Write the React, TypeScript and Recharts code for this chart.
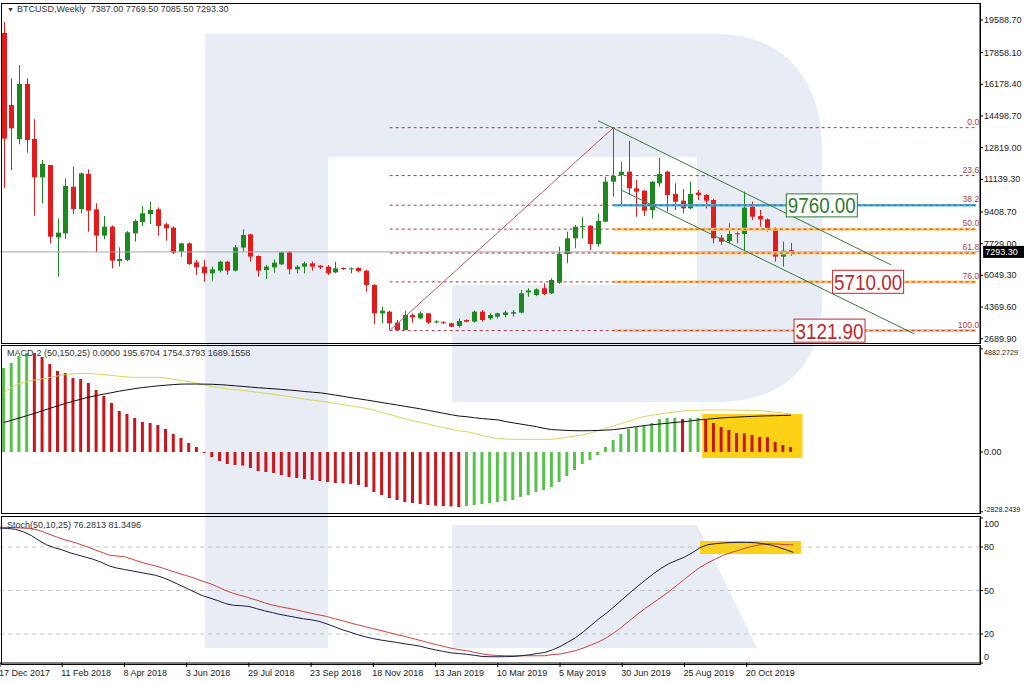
import { ComposedChart, Bar, Line, XAxis, YAxis, ReferenceLine, ReferenceDot, ReferenceArea, Cell } from 'recharts';

const FONT = '"Liberation Sans", Arial, sans-serif';
const GREEN = '#1a8a1f';
const RED = '#e01c1c';
const SLOTS = 127;

// x axis labels, one every 8 weekly candles
const tickLabels = [
  '17 Dec 2017', '11 Feb 2018', '8 Apr 2018', '3 Jun 2018', '29 Jul 2018', '23 Sep 2018', '18 Nov 2018',
  '13 Jan 2019', '10 Mar 2019', '5 May 2019', '30 Jun 2019', '25 Aug 2019', '20 Oct 2019',
];

// weekly BTCUSD candles
const openPrices = [
  18896, 15080, 13278, 16193, 13278, 11246, 11900, 8066, 8278, 10752,
  9568, 11423, 9550, 8155, 8632, 6812, 6865, 8278, 8879, 9303,
  9550, 8756, 8579, 7307, 7748, 6741, 6512, 6158, 6300, 6777,
  6300, 7519, 8225, 7077, 6335, 6476, 6635, 7271, 6370, 6512,
  6688, 6565, 6512, 6211, 6441, 6388, 6441, 6300, 5540, 4038,
  4127, 3544, 3155, 3950, 3773, 4038, 3580, 3560, 3508, 3367,
  3685, 3597, 4127, 3773, 3862, 3950, 4020, 4074, 5150, 5010,
  5363, 5098, 5664, 7183, 8013, 8600, 8684, 7713, 8897, 11017,
  11370, 11547, 10663, 10540, 9515, 10928, 11547, 10363, 10010, 9603,
  10434, 10310, 10045, 8049, 7872, 8278, 8243, 9692, 9197, 9020,
  8543, 7042, 7387,
];
const highPrices = [
  19479, 16493, 17200, 16493, 14320, 12165, 11900, 9073, 11193, 11812,
  11500, 11670, 9868, 9197, 8700, 7536, 8400, 9020, 9727, 9957,
  9650, 8844, 8650, 7784, 7800, 6865, 6865, 6512, 6830, 6820,
  7660, 8490, 8260, 7100, 6600, 6900, 7307, 7342, 6600, 6777,
  6777, 6600, 6600, 6777, 6476, 6476, 6476, 6350, 5600, 4392,
  4180, 3685, 4180, 4038, 4127, 4060, 3680, 3620, 3540, 3773,
  3720, 4180, 4215, 4038, 4074, 4180, 4215, 5275, 5363, 5363,
  5628, 5893, 7572, 8367, 8720, 9162, 8720, 9338, 11282, 13861,
  12075, 13190, 11105, 10575, 11050, 12289, 11600, 10928, 10628, 11017,
  10575, 10350, 10100, 8190, 8808, 8367, 10487, 9957, 9515, 9073,
  8600, 7837, 7769.5,
];
const lowPrices = [
  10663, 11635, 13000, 12554, 9215, 9868, 7748, 5982, 7978, 9303,
  9338, 8367, 7271, 7960, 6423, 6512, 6800, 7837, 8667, 8773,
  8155, 7890, 7183, 7042, 6600, 6070, 5716, 5770, 6211, 6070,
  6250, 7307, 6777, 5982, 5858, 6194, 6600, 6105, 6158, 6158,
  6300, 6388, 6070, 6158, 6335, 6158, 6211, 5187, 3473, 3508,
  3155, 3122, 3140, 3544, 3720, 3473, 3500, 3480, 3300, 3278,
  3560, 3544, 3597, 3685, 3773, 3826, 3862, 4038, 4922, 4950,
  5010, 5060, 5593, 6688, 7483, 8013, 7395, 7572, 8897, 10222,
  9690, 10310, 9162, 9197, 9073, 10752, 9427, 9515, 9338, 9550,
  10045, 9603, 7748, 7660, 7748, 7748, 7395, 8985, 8632, 8367,
  6777, 6512, 7085.5,
];
const closePrices = [
  13300, 13843, 16193, 13225, 11246, 11953, 8102, 8314, 10787, 9568,
  11458, 9480, 8155, 8632, 6830, 6918, 8331, 8932, 9338, 9515,
  8667, 8544, 7254, 7748, 6653, 6476, 6158, 6370, 6777, 6300,
  7536, 8190, 7042, 6300, 6512, 6724, 7271, 6370, 6512, 6688,
  6512, 6476, 6158, 6423, 6388, 6423, 6282, 5540, 4038, 4180,
  3508, 3155, 3950, 3826, 4038, 3544, 3610, 3540, 3331, 3632,
  3597, 4127, 3685, 3950, 4038, 4091, 4100, 5098, 5250, 5310,
  5063, 5805, 7183, 8013, 8632, 8660, 7713, 8932, 11017, 11317,
  11545, 10663, 10487, 9480, 11017, 11423, 10310, 9957, 9603, 10363,
  10310, 10010, 8013, 7837, 8243, 8225, 9639, 9162, 9020, 8543,
  7042, 7360, 7293.3,
];
const priceTicks = [2689.9, 4369.6, 6049.3, 7729.0, 9408.7, 11139.3, 12819.0, 14498.7, 16178.4, 17858.1, 19588.7];
const lastPrice = 7293.3;

// fibonacci grid from the Dec 2018 low to the Jun 2019 high
const fibLabels = ['0.0', '23.6', '38.2', '50.0', '61.8', '76.0', '100.0'];
const fibPrices = [13880, 11341, 9770, 8501, 7232, 5704, 3122];

// MACD-2 (50,150,25)
const macdHist = [
  3973, 4210, 4541, 4683, 4660, 4494, 4162, 3831, 3737, 3500,
  3453, 3264, 2933, 2649, 2318, 1939, 1797, 1608, 1419, 1372,
  1277, 1088, 851, 662, 426, 237, -47, -237, -426, -568,
  -615, -640, -757, -899, -946, -993, -1088, -1183, -1230, -1277,
  -1324, -1372, -1419, -1466, -1480, -1514, -1561, -1656, -1892, -2034,
  -2176, -2270, -2365, -2412, -2460, -2507, -2540, -2556, -2570, -2602,
  -2554, -2507, -2460, -2412, -2365, -2318, -2270, -2129, -2034, -1892,
  -1797, -1656, -1419, -1135, -851, -568, -378, -142, 237, 568,
  851, 1088, 1183, 1230, 1372, 1561, 1608, 1615, 1561, 1608,
  1620, 1514, 1372, 1183, 1041, 899, 880, 804, 710, 700,
  473, 331, 237,
];
const macdMain = [
  1400, 1500, 1610, 1720, 1830, 1950, 2066, 2190, 2300, 2400,
  2500, 2590, 2670, 2740, 2810, 2880, 2940, 3000, 3050, 3090,
  3130, 3160, 3190, 3210, 3215, 3215, 3210, 3202, 3185, 3160,
  3130, 3100, 3070, 3040, 3013, 2990, 2960, 2930, 2900, 2860,
  2830, 2800, 2750, 2690, 2630, 2570, 2515, 2460, 2400, 2340,
  2280, 2220, 2160, 2100, 2040, 1970, 1900, 1830, 1760, 1700,
  1670, 1620, 1580, 1550, 1520, 1440, 1380, 1320, 1260, 1200,
  1120, 1060, 1040, 1020, 1008, 1005, 1010, 1020, 1035, 1060,
  1100, 1150, 1200, 1250, 1290, 1324, 1360, 1400, 1430, 1470,
  1520, 1547, 1580, 1610, 1635, 1650, 1670, 1685, 1700, 1710,
  1720, 1730, 1736,
];
const macdSignal = [
  2800, 3050, 3240, 3330, 3410, 3460, 3530, 3600, 3660, 3700,
  3720, 3710, 3690, 3660, 3620, 3580, 3550, 3530, 3530, 3530,
  3530, 3500, 3440, 3380, 3330, 3250, 3170, 3095, 3040, 2990,
  2950, 2910, 2870, 2820, 2776, 2730, 2670, 2620, 2560, 2500,
  2450, 2410, 2360, 2300, 2240, 2180, 2120, 2066, 1970, 1870,
  1770, 1670, 1570, 1480, 1400, 1320, 1230, 1150, 1070, 1000,
  960, 880, 780, 700, 630, 610, 600, 598, 598, 598,
  600, 605, 640, 700, 760, 804, 900, 1010, 1120, 1230,
  1350, 1460, 1580, 1680, 1740, 1797, 1850, 1900, 1940, 1960,
  1975, 1987, 1990, 1990, 1985, 1980, 1975, 1965, 1953, 1920,
  1880, 1840, 1797,
];

// Stoch(50,10,25)
const stochMain = [
  93, 92.8, 92.2, 90.5, 88, 84.5, 81.5, 79.5, 78, 76,
  74.5, 73, 71.5, 69.5, 67, 65.5, 64.5, 63.5, 62.5, 61.5,
  60.5, 58.8, 56.5, 54, 51.5, 49, 46.5, 44.8, 43, 41,
  39.8, 39.5, 39, 37.5, 36, 34.8, 33.5, 32.5, 31.5, 30.5,
  29.8, 28.8, 27, 25, 23, 21.3, 19.5, 18, 16.8, 15.8,
  15, 14.2, 13.3, 12.5, 11.6, 10.2, 9, 8, 7, 6.5,
  6, 5.3, 4.5, 4.3, 4.3, 4.4, 4.5, 5, 5.6, 6.5,
  7.2, 9, 11.3, 14.3, 17.5, 21.5, 26, 30.5, 34.5, 39,
  43.8, 48.5, 53, 57.3, 61.5, 65.3, 68.5, 70.8, 73, 76,
  79.5, 81.6, 82.3, 82.8, 83.1, 83.2, 83.2, 83, 82.4, 81.5,
  80, 78.2, 76.3,
];
const stochSignal = [
  93.6, 93.5, 93.3, 93, 92.8, 91.5, 89.5, 87.5, 85.5, 84,
  82.4, 80.5, 78.5, 76.5, 74.5, 73.8, 73.3, 71.5, 69.8, 68.2,
  67, 65.3, 63.5, 61.8, 60.2, 58.5, 56.5, 54.8, 52.5, 50,
  48, 46.5, 45, 43.3, 41.5, 40, 38.8, 37.8, 36.8, 35.5,
  34.3, 33.2, 32.1, 30.6, 29.2, 27.7, 26.3, 25, 23.7, 22.4,
  21, 19.6, 18.4, 17, 15.6, 14.2, 12.8, 11.5, 10.2, 9.2,
  8.5, 7.4, 6.3, 5.5, 5.2, 5, 5, 5, 5, 5,
  5, 5.8, 6.2, 7.3, 8.6, 10.3, 12.5, 14.6, 17.5, 21,
  25, 29.5, 33.8, 37.8, 41.5, 45.3, 49.2, 53.5, 57.8, 62,
  66, 69, 71.8, 74.2, 76.2, 77.8, 79.5, 80.8, 81.8, 82.2,
  82, 81.7, 81.4,
];
const stochLevels = [80, 50, 20];

const priceData = Array.from({ length: SLOTS }, (_, i) =>
  i < openPrices.length
    ? { i, open: openPrices[i], high: highPrices[i], low: lowPrices[i], close: closePrices[i] }
    : { i }
);
const macdData = Array.from({ length: SLOTS }, (_, i) =>
  i < macdHist.length ? { i, hist: macdHist[i], main: macdMain[i], signal: macdSignal[i] } : { i }
);
const stochData = Array.from({ length: SLOTS }, (_, i) =>
  i < stochMain.length ? { i, main: stochMain[i], signal: stochSignal[i] } : { i }
);

function Candle(props: any) {
  const { x, y, width, height, payload } = props;
  if (payload == null || payload.open == null) return null;
  const top = Math.min(y, y + height);
  const bottom = Math.max(y, y + height);
  const span = payload.high - payload.low || 1;
  const toY = (v: number) => top + ((payload.high - v) / span) * (bottom - top);
  const color = payload.close >= payload.open ? GREEN : RED;
  const bodyTop = toY(Math.max(payload.open, payload.close));
  const bodyBottom = toY(Math.min(payload.open, payload.close));
  const cx = Math.round(x + width / 2) + 0.5;
  return (
    <g>
      <line x1={cx} x2={cx} y1={top} y2={bottom} stroke={color} strokeWidth={1} />
      <rect x={cx - 2.5} y={bodyTop} width={5} height={Math.max(1, bodyBottom - bodyTop)} fill={color} />
    </g>
  );
}

// right axis labels; the long MACD ones get a smaller size so they stay on the page
function rightTick(format: (v: number) => string, shift: (v: number) => number) {
  return (props: any) => {
    const { x, y, payload } = props;
    const label = format(payload.value);
    const size = label.length > 8 ? 7.2 : 9;
    return (
      <text x={x} y={y + 3 + shift(payload.value)} fontSize={size} fontFamily={FONT} fill="#222" textAnchor="start">
        {label}
      </text>
    );
  };
}

function XTick(props: any) {
  const { x, y, payload } = props;
  return (
    <text x={x - 1} y={y + 8} fontSize={9} fontFamily={FONT} fill="#222" textAnchor="start">
      {tickLabels[payload.value / 8]}
    </text>
  );
}

function fibLabel(text: string) {
  return (p: any) => (
    <text x={p.cx + 3} y={p.cy - 3} fontSize={8.5} fontFamily={FONT} fill="#b0404e" textAnchor="end">
      {text}
    </text>
  );
}

function boxLabel(text: string, color: string) {
  return (p: any) => (
    <g>
      <rect x={p.cx - 35.5} y={p.cy - 11.5} width={71} height={23} fill="#fff" stroke={color} strokeWidth={1} />
      <text x={p.cx} y={p.cy + 8} fontSize={22} fontFamily={FONT} fill={color} textAnchor="middle"
        textLength={68} lengthAdjust="spacingAndGlyphs">
        {text}
      </text>
    </g>
  );
}

function priceTag(p: any) {
  // tag sits on the right axis, just outside the plot edge
  const x = p.cx + 7;
  return (
    <g>
      <rect x={x} y={p.cy - 6} width={42} height={12} fill="#000" />
      <text x={x + 2} y={p.cy + 3.5} fontSize={9} fontFamily={FONT} fill="#fff">{lastPrice.toFixed(2)}</text>
    </g>
  );
}

const frame = (top: number, height: number) => ({
  position: 'absolute' as const, left: 1, top, width: 980, height,
  border: '1px solid #000', boxSizing: 'border-box' as const, pointerEvents: 'none' as const,
});
const caption = (top: number) => ({
  position: 'absolute' as const, left: 7, top, fontFamily: FONT, fontSize: 9, color: '#333',
  lineHeight: '11px', whiteSpace: 'nowrap' as const,
});

export default function App() {
  const fibStart = 50;
  const lastSlot = SLOTS - 1;
  return (
    <div style={{ position: 'absolute', left: 0, top: 0, width: 1024, height: 684, background: '#fff', overflow: 'hidden' }}>
      {/* watermark */}
      <svg width={1024} height={684} style={{ position: 'absolute', left: 0, top: 0 }}>
        <path d="M205 34 H715 C785 34 822 80 822 150 V300 C822 365 785 402 715 402 H452 V285 H697 V157 H328 V648 H205 Z" fill="#e8ecf5" />
        <path d="M452 525 H697 L757 648 H452 Z" fill="#e8ecf5" />
      </svg>

      <div style={{ position: 'absolute', left: 0, top: 0 }}>
        <ComposedChart width={1024} height={346} data={priceData} margin={{ top: 4, right: 0, bottom: 3, left: 0 }}>
          <XAxis dataKey="i" hide />
          <YAxis orientation="right" width={44} domain={[2466, 20433]} allowDataOverflow ticks={priceTicks} interval={0}
            tickSize={3} tickMargin={1} axisLine={{ stroke: '#000' }} tickLine={{ stroke: '#000' }}
            tick={rightTick((v) => v.toFixed(2), () => 0)} />
          <ReferenceLine y={lastPrice} stroke="#a8a8a8" strokeWidth={1} />
          {fibPrices.slice(3).map((p) => (
            <ReferenceLine key={'o' + p} segment={[{ x: 79, y: p }, { x: lastSlot, y: p }]} stroke="#f7c977" strokeWidth={3} />
          ))}
          <ReferenceLine segment={[{ x: 79, y: fibPrices[2] }, { x: lastSlot, y: fibPrices[2] }]} stroke="#45b0de" strokeWidth={2.5} />
          {fibPrices.map((p) => (
            <ReferenceLine key={'f' + p} segment={[{ x: fibStart, y: p }, { x: lastSlot, y: p }]} stroke="#b03a45" strokeDasharray="3 3" strokeWidth={1} />
          ))}
          <ReferenceLine segment={[{ x: 50, y: 3122 }, { x: 79, y: 13880 }]} stroke="#c0585c" strokeWidth={1} />
          <ReferenceLine segment={[{ x: 77, y: 14248 }, { x: 115, y: 6600 }]} stroke="#3a7d3a" strokeWidth={1} />
          <ReferenceLine segment={[{ x: 80, y: 10575 }, { x: 118, y: 2943 }]} stroke="#3a7d3a" strokeWidth={1} />
          <Bar dataKey={(d: any) => (d.low == null ? null : [d.low, d.high])} barSize={5} shape={Candle} isAnimationActive={false} />
          {fibPrices.map((p, k) => (
            <ReferenceDot key={'l' + p} x={lastSlot} y={p} r={0} shape={fibLabel(fibLabels[k])} />
          ))}
          <ReferenceDot x={106} y={9760} r={0} shape={boxLabel('9760.00', '#2f7a32')} />
          <ReferenceDot x={112} y={5710} r={0} shape={boxLabel('5710.00', '#c0282d')} />
          <ReferenceDot x={107} y={3121.9} r={0} shape={boxLabel('3121.90', '#c0282d')} />
          <ReferenceDot x={lastSlot} y={lastPrice} r={0} shape={priceTag} />
        </ComposedChart>
      </div>

      <div style={{ position: 'absolute', left: 0, top: 342 }}>
        <ComposedChart width={1024} height={174} data={macdData} margin={{ top: 4, right: 0, bottom: 3, left: 0 }}>
          <XAxis dataKey="i" hide />
          <YAxis orientation="right" width={44} domain={[-2885, 5014]} allowDataOverflow ticks={[4882.2729, 0, -2828.2439]} interval={0}
            tickSize={3} tickMargin={1} axisLine={{ stroke: '#000' }} tickLine={{ stroke: '#000' }}
            tick={rightTick((v) => (v === 0 ? '0.00' : v.toFixed(4)), (v) => (v > 0 ? 3 : v < 0 ? -3 : 0))} />
          <ReferenceArea x1={91} x2={103} y1={-284} y2={1797} fill="#fcd116" fillOpacity={1} stroke="none" />
          <Bar dataKey="hist" barSize={3} isAnimationActive={false}>
            {macdData.map((d: any, k) => (
              <Cell key={k} fill={k === 0 || d.hist >= macdHist[k - 1] ? '#55c24a' : '#c8161d'} />
            ))}
          </Bar>
          <Line dataKey="signal" stroke="#ddd45a" strokeWidth={1} dot={false} isAnimationActive={false} type="linear" />
          <Line dataKey="main" stroke="#111" strokeWidth={1} dot={false} isAnimationActive={false} type="linear" />
        </ComposedChart>
      </div>

      <div style={{ position: 'absolute', left: 0, top: 514 }}>
        <ComposedChart width={1024} height={170} data={stochData} margin={{ top: 4, right: 0, bottom: 0, left: 0 }}>
          <XAxis dataKey="i" height={21} ticks={tickLabels.map((_, k) => k * 8)} interval={0} tickSize={4} tickMargin={1}
            axisLine={{ stroke: '#000' }} tickLine={{ stroke: '#000' }} tick={XTick} />
          <YAxis orientation="right" width={44} domain={[0, 100]} allowDataOverflow ticks={[100, 80, 50, 20, 0]} interval={0}
            tickSize={3} tickMargin={1} axisLine={{ stroke: '#000' }} tickLine={{ stroke: '#000' }}
            tick={rightTick((v) => String(v), (v) => (v === 100 ? 6 : v === 0 ? -6 : 0))} />
          {stochLevels.map((v) => (
            <ReferenceLine key={v} y={v} stroke="#c4c4c4" strokeDasharray="4 4" strokeWidth={1} />
          ))}
          <ReferenceArea x1={90} x2={103} y1={75.2} y2={84.1} fill="#fcd116" fillOpacity={1} stroke="none" />
          <Line dataKey="signal" stroke="#d0403c" strokeWidth={1} dot={false} isAnimationActive={false} type="linear" />
          <Line dataKey="main" stroke="#1c1c44" strokeWidth={1} dot={false} isAnimationActive={false} type="linear" />
        </ComposedChart>
      </div>

      <div style={frame(3, 341)} />
      <div style={frame(345, 169)} />
      <div style={frame(516, 149)} />

      <div style={caption(4)}>
        <span style={{ fontSize: 7, marginRight: 3 }}>▼</span>BTCUSD,Weekly&nbsp;&nbsp;7387.00 7769.50 7085.50 7293.30
      </div>
      <div style={caption(348)}>MACD-2 (50,150,25) 0.0000 195.6704 1754.3793 1689.1558</div>
      <div style={caption(520)}>Stoch(50,10,25) 76.2813 81.3496</div>
    </div>
  );
}
